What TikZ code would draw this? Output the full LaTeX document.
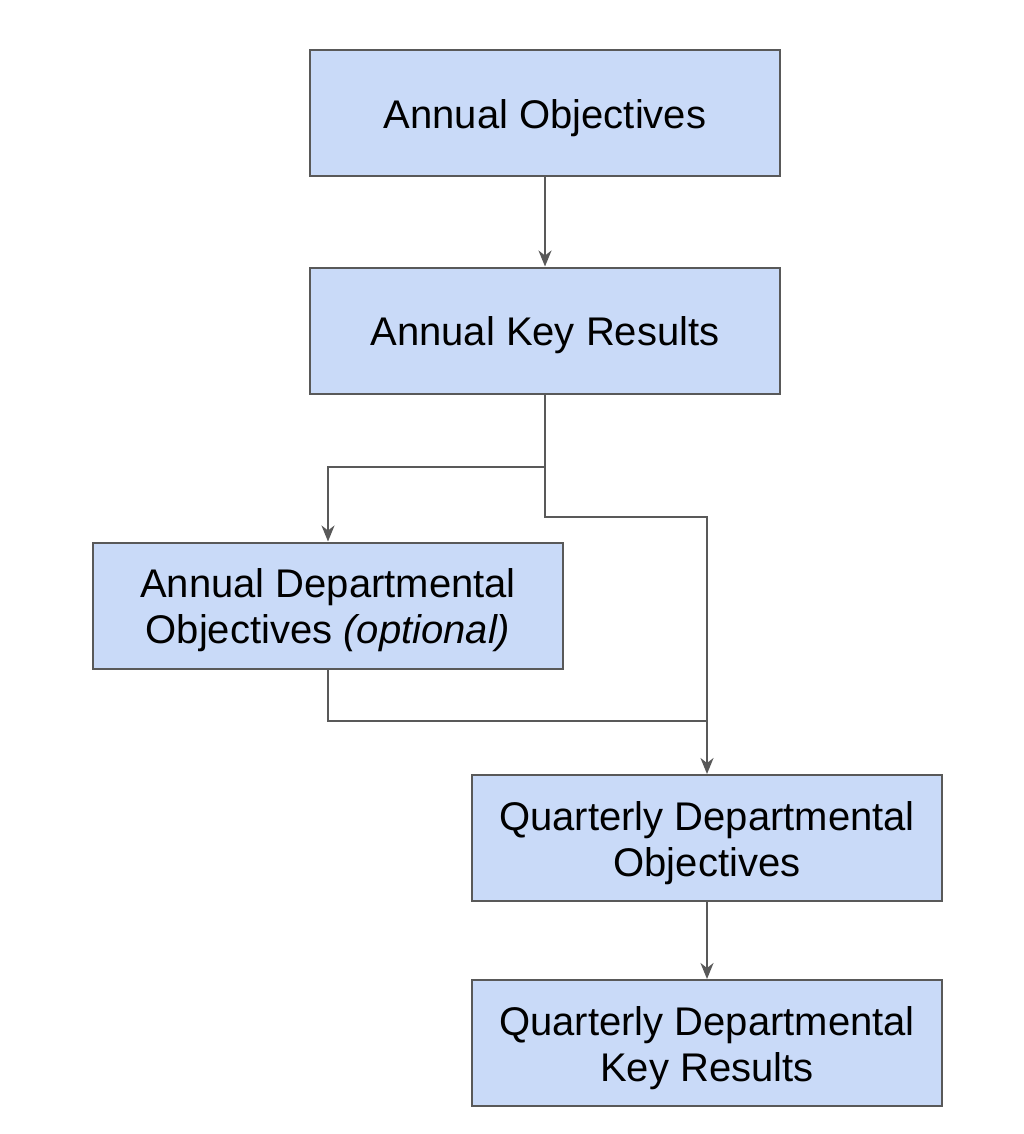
\documentclass[tikz,border=0pt]{standalone}
\usepackage{fontspec}
\setmainfont{Liberation Sans}
\usetikzlibrary{arrows.meta}
\definecolor{boxfill}{HTML}{C9DAF8}
\definecolor{edge}{HTML}{595959}
\begin{document}
\begin{tikzpicture}[x=1pt,y=-1pt,
  okr/.style={draw=edge,fill=boxfill,line width=2pt,minimum width=470pt,minimum height=126pt,
    inner sep=0pt,label={[align=center,yshift=-5pt,font=\fontsize{40}{46}\selectfont]center:#1}},
  conn/.style={draw=edge,line width=2pt},
  arr/.style={conn,-{Stealth[length=16pt,width=13pt,inset=5pt]}}]
\useasboundingbox (0,0) rectangle (1024,1134);
\node[okr={Annual Objectives}] (ao) at (545,113) {};
\node[okr={Annual Key Results}] (akr) at (545,330.5) {};
\node[okr={Annual Departmental\\Objectives \textit{(optional)}}] (ado) at (328,605.5) {};
\node[okr={Quarterly Departmental\\Objectives}] (qdo) at (707,838) {};
\node[okr={Quarterly Departmental\\Key Results}] (qdkr) at (707,1043) {};
\coordinate (j1) at (545,467);
\coordinate (j2) at (707,721);
\draw[arr] (ao.south) -- (akr.north);
\draw[conn] (akr.south) -- (j1);
\draw[arr] (j1) -| (ado.north);
\draw[arr] (j1) |- (707,517) -- (qdo.north);
\draw[conn] (ado.south) |- (j2);
\draw[arr] (qdo.south) -- (qdkr.north);
\end{tikzpicture}
\end{document}
